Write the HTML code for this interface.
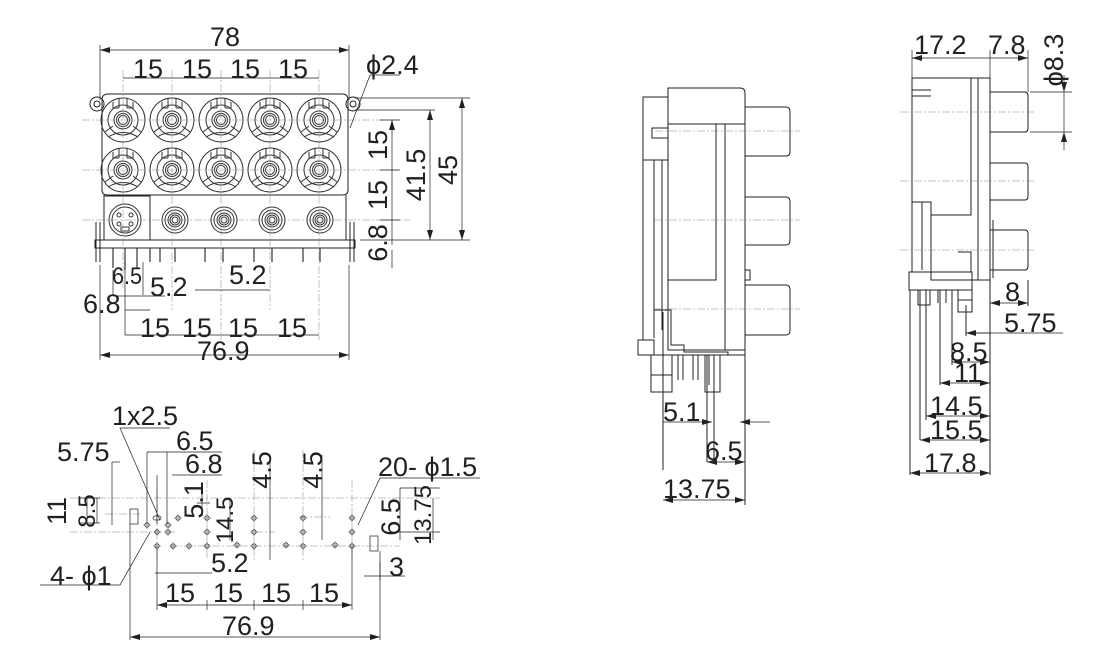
<!DOCTYPE html>
<html><head><meta charset="utf-8"><style>
html,body{margin:0;padding:0;background:#fff;}
svg{display:block;}
text{font-family:"Liberation Sans",sans-serif;fill:#231f20;}
.t text{font-size:27px;}
.t text.s{font-size:24px;}
</style></head><body>
<svg width="1120" height="658" viewBox="0 0 1120 658" xmlns="http://www.w3.org/2000/svg">
<defs>
<marker id="a" viewBox="0 0 10 6" refX="10" refY="3" markerWidth="10" markerHeight="6" orient="auto-start-reverse" markerUnits="userSpaceOnUse"><path d="M0,0L10,3L0,6z" fill="#231f20"/></marker>
<g id="jack" fill="none" stroke="#333" stroke-width="1">
<circle r="22"/><circle r="15"/><circle r="9"/><circle r="6.5"/><circle r="4.5"/>
<path d="M-4,-22V-12M4,-22V-12M-10,-18V-12H-4M10,-18V-12H4"/>
<path d="M-18,12L-10,6M18,12L10,6M-15,17Q0,8 15,17"/>
</g>
<g id="rca" fill="none" stroke="#333" stroke-width="1"><circle r="13"/><circle r="10"/><circle r="7"/><circle r="5"/><circle r="3"/></g>
<g id="h"><circle r="2.2" fill="none" stroke="#333" stroke-width="0.8"/><path d="M-4,0H4M0,-4V4" stroke="#666" stroke-width="0.5"/></g>
</defs>
<g stroke="#231f20" stroke-width="1" fill="none">
<path d="M108,94H342Q348,94 348,100V190Q348,195 342,195H108Q102,195 102,190V100Q102,94 108,94Z"/>
<circle cx="97" cy="104" r="7"/><circle cx="97" cy="104" r="3"/>
<circle cx="353" cy="104" r="7"/><circle cx="353" cy="104" r="3"/>
<path d="M104,195V240M346,195V240M95,240H355V248H95Z"/>
<path d="M104,196H150V240H104Z"/>
<path d="M96,222V262M100,222V262M350,222V262M354,222V262"/>
</g>
<use href="#jack" x="123" y="120"/><use href="#jack" x="172" y="120"/><use href="#jack" x="221" y="120"/><use href="#jack" x="270" y="120"/><use href="#jack" x="319" y="120"/>
<use href="#jack" x="123" y="170"/><use href="#jack" x="172" y="170"/><use href="#jack" x="221" y="170"/><use href="#jack" x="270" y="170"/><use href="#jack" x="319" y="170"/>
<use href="#rca" x="175" y="220"/><use href="#rca" x="224" y="220"/><use href="#rca" x="272" y="220"/><use href="#rca" x="320" y="220"/>
<g fill="none" stroke="#333" stroke-width="1"><circle cx="125" cy="220" r="16"/><circle cx="125" cy="220" r="13"/><circle cx="119" cy="215" r="2"/><circle cx="131" cy="215" r="2"/><circle cx="119" cy="224" r="2"/><circle cx="131" cy="224" r="2"/><rect x="121" y="227" width="8" height="4"/></g>
<g stroke="#333" stroke-width="1.2">
<path d="M113,248V268M125,248V270M137,248V268M150,248V262M160,248V262M175,248V262M205,248V262M223,248V262M254,248V262M272,248V262M303,248V262M320,248V262"/>
</g>
<g stroke="#888" stroke-width="0.5" stroke-dasharray="8,2,2,2" fill="none">
<path d="M82,120H400M82,170H400M82,220H410"/>
<path d="M123,70V290M172,70V310M221,70V340M270,70V310M319,70V340"/>
</g>
<g stroke="#231f20" stroke-width="0.7" fill="none">
<path d="M100,45V100M349,45V100"/>
<path d="M100,50H349" marker-start="url(#a)" marker-end="url(#a)"/>
<path d="M123,78H319"/>
<path d="M350,128L370,75H400"/>
<path d="M355,98H470M355,110H435M380,120H400M380,170H400M380,220H400M360,240H470"/>
<path d="M392,120V245" marker-start="url(#a)"/>
<path d="M392,250V268"/>
<path d="M430,110V240" marker-start="url(#a)" marker-end="url(#a)"/>
<path d="M462,98V240" marker-start="url(#a)" marker-end="url(#a)"/>
<path d="M113,270V295M125,262V335M143,262V295M100,265V360M349,265V360"/>
<path d="M113,296H143"/><path d="M125,310H150M143,296H165"/>
<path d="M195,290H270"/>
<path d="M125,335H319"/>
<path d="M100,355H349" marker-start="url(#a)" marker-end="url(#a)"/>
</g>
<g class="t">
<text x="210" y="46">78</text>
<text x="133" y="78">15</text><text x="182" y="78">15</text><text x="230" y="78">15</text><text x="278" y="78">15</text>
<text x="366" y="74">ϕ2.4</text>
<text x="387" y="145" transform="rotate(-90 387 145)" text-anchor="middle">15</text>
<text x="387" y="195" transform="rotate(-90 387 195)" text-anchor="middle">15</text>
<text x="387" y="243" transform="rotate(-90 387 243)" text-anchor="middle">6.8</text>
<text x="425" y="175" transform="rotate(-90 425 175)" text-anchor="middle">41.5</text>
<text x="457" y="170" transform="rotate(-90 457 170)" text-anchor="middle">45</text>
<text class="s" x="112" y="284" textLength="30" lengthAdjust="spacingAndGlyphs">6.5</text>
<text x="150" y="296">5.2</text><text x="229" y="284">5.2</text>
<text x="83" y="313">6.8</text>
<text x="140" y="337">15</text><text x="182" y="337">15</text><text x="228" y="337">15</text><text x="277" y="337">15</text>
<text x="197" y="360">76.9</text>
</g>
<!-- MIDDLE SIDE VIEW -->
<g stroke="#231f20" stroke-width="1" fill="none">
<path d="M668,88H740Q745,88 745,93V350H668Z"/>
<path d="M668,124H745M716,124V280H668M725,124V350"/>
<path d="M643,97H668V160H643ZM643,160V340M654,160V338M662,160V330"/>
<path d="M652,128H668V138H652Z"/>
<path d="M745,107H786Q790,107 790,112V152Q790,156 786,156H745"/>
<path d="M745,197H786Q790,197 790,202V240Q790,245 786,245H745"/>
<path d="M745,285H786Q790,285 790,290V330Q790,335 786,335H745"/>
<path d="M745,270H750V280H745"/>
<path d="M654,310H671V345H684V352H728V355H745V345"/>
<path d="M638,340H654V355H638ZM638,355H728"/>
<path d="M651,355V392H672V355M651,375H672"/>
<path d="M678,355V380M683,355V380M693,355V380M698,355V380M705,355V392H720V355M709,355V385M714,355V385"/>
<path d="M663,312V470M707,355V462M745,340V505M714,385V462"/>
</g>
<g stroke="#888" stroke-width="0.5" stroke-dasharray="8,2,2,2"><path d="M655,131H800M655,220H800M655,309H800"/></g>
<g stroke="#231f20" stroke-width="0.7" fill="none">
<path d="M663,422H700" /><path d="M740,422H770" marker-start="url(#a)"/><path d="M700,422H712" marker-end="url(#a)"/>
<path d="M707,462H745" marker-start="url(#a)" marker-end="url(#a)"/>
<path d="M663,500H745" marker-start="url(#a)" marker-end="url(#a)"/>
</g>
<g class="t"><text x="663" y="421">5.1</text><text x="705" y="460">6.5</text><text x="663" y="498">13.75</text></g>
<!-- RIGHT SIDE VIEW -->
<g stroke="#231f20" stroke-width="1" fill="none">
<path d="M931,78H990V280H931V202H912V78ZM912,90H931M912,96H931"/>
<path d="M971,78V215H931M978,78V280"/>
<path d="M990,92H1025Q1028,92 1028,96V128Q1028,132 1025,132H990"/>
<path d="M990,163H1025Q1028,163 1028,167V196Q1028,200 1025,200H990"/>
<path d="M993,220V278M990,230H1025Q1028,230 1028,234V266Q1028,270 1025,270H990"/>
<path d="M912,202V272M922,202V270"/>
<path d="M909,272H972V290H909ZM958,252H971V272"/>
<path d="M918,290V305H930V290M938,290V303M946,290V303M952,290V303M958,290V312H972V290M958,300H972"/>
<path d="M910,290V475M920,290V440M926,290V420M940,290V385M952,290V365M966,305V336M990,280V475M1028,280V306"/>
</g>
<g stroke="#888" stroke-width="0.5" stroke-dasharray="8,2,2,2"><path d="M900,112H1036M900,181H1036M900,250H1036"/></g>
<g stroke="#231f20" stroke-width="0.7" fill="none">
<path d="M912,50V78M990,50V78M1028,50V92"/>
<path d="M912,58H1028" marker-start="url(#a)" marker-end="url(#a)"/>
<path d="M1030,92H1072M1030,132H1072"/>
<path d="M1064,75V92" marker-end="url(#a)"/><path d="M1064,150V132" marker-end="url(#a)"/><path d="M1064,92V132"/>
<path d="M990,303H1028" marker-start="url(#a)" marker-end="url(#a)"/>
<path d="M966,333H1063" /><path d="M966,333H990" marker-start="url(#a)"/>
<path d="M952,362H990" marker-start="url(#a)" marker-end="url(#a)"/>
<path d="M940,383H990" marker-start="url(#a)" marker-end="url(#a)"/>
<path d="M926,416H990" marker-start="url(#a)" marker-end="url(#a)"/>
<path d="M920,440H990" marker-start="url(#a)" marker-end="url(#a)"/>
<path d="M910,473H990" marker-start="url(#a)" marker-end="url(#a)"/>
</g>
<g class="t">
<text x="914" y="54">17.2</text><text x="988" y="54">7.8</text>
<text x="1063" y="60" transform="rotate(-90 1063 60)" text-anchor="middle">ϕ8.3</text>
<text x="1005" y="301">8</text><text x="1004" y="332">5.75</text>
<text x="950" y="361">8.5</text><text x="954" y="382">11</text>
<text x="930" y="415">14.5</text><text x="930" y="439">15.5</text><text x="924" y="472">17.8</text>
</g>
<!-- BOTTOM PCB LAYOUT -->
<g stroke="#888" stroke-width="0.5" stroke-dasharray="8,2,2,2" fill="none">
<path d="M70,498H440M105,514H140M70,532H175M170,546H400M300,517H330M255,532H275"/>
<path d="M157,490V560M207,480V560M254,450V560M303,450V560M352,480V560"/>
</g>
<g stroke="#231f20" stroke-width="0.7" fill="none">
<rect x="130" y="509" width="8" height="15"/><rect x="370" y="536" width="8" height="15"/>
<rect x="153" y="516" width="8" height="4" rx="2"/>
<path d="M130,524V640M380,551V640"/>
<path d="M130,637H380" marker-start="url(#a)" marker-end="url(#a)"/>
<path d="M157,605H352" marker-start="url(#a)" marker-end="url(#a)"/>
<path d="M207,600V610M254,600V610M303,600V610"/>
<path d="M157,546V610M352,546V610"/>
<path d="M155,573H212"/>
<path d="M364,576H380M380,562V580M380,576H405"/>
<path d="M147,452V524M167,452V524"/><path d="M147,452H222"/>
<path d="M157,475V524M172,475H222"/>
<path d="M112,462H120"/><path d="M112,462V525"/>
<path d="M80,498H100M80,523H100M87,498V523"/>
<path d="M97,498V523"/>
<path d="M160,520L120,428H170"/>
<path d="M150,532L120,585H40"/>
<path d="M202,488V516M197,503H210"/>
<path d="M230,500V540"/>
<path d="M270,455V560M322,455V540"/>
<path d="M358,525L380,478H480"/>
<path d="M400,488V540M400,488H440M395,532H440M433,498V540"/>
</g>
<g>
<use href="#h" x="157" y="532"/><use href="#h" x="157" y="546"/><use href="#h" x="147" y="525"/><use href="#h" x="168" y="525"/><use href="#h" x="168" y="532"/>
<use href="#h" x="178" y="518"/><use href="#h" x="173" y="546"/><use href="#h" x="189" y="546"/>
<use href="#h" x="207" y="518"/><use href="#h" x="207" y="532"/><use href="#h" x="207" y="546"/><use href="#h" x="237" y="545"/>
<use href="#h" x="254" y="518"/><use href="#h" x="254" y="532"/><use href="#h" x="254" y="546"/><use href="#h" x="286" y="545"/>
<use href="#h" x="303" y="518"/><use href="#h" x="303" y="532"/><use href="#h" x="303" y="546"/><use href="#h" x="335" y="545"/>
<use href="#h" x="352" y="518"/><use href="#h" x="352" y="532"/><use href="#h" x="352" y="546"/>
</g>
<g class="t">
<text x="112" y="425">1x2.5</text>
<text x="176" y="450">6.5</text><text x="185" y="473">6.8</text>
<text x="57" y="461">5.75</text>
<text x="378" y="476">20- ϕ1.5</text>
<text x="66" y="511" transform="rotate(-90 66 511)" text-anchor="middle">11</text>
<text class="s" x="95" y="511" transform="rotate(-90 95 511)" text-anchor="middle">8.5</text>
<text x="203" y="500" transform="rotate(-90 203 500)" text-anchor="middle">5.1</text>
<text class="s" x="233" y="520" transform="rotate(-90 233 520)" text-anchor="middle">14.5</text>
<text x="271" y="470" transform="rotate(-90 271 470)" text-anchor="middle">4.5</text>
<text x="322" y="470" transform="rotate(-90 322 470)" text-anchor="middle">4.5</text>
<text x="400" y="517" transform="rotate(-90 400 517)" text-anchor="middle">6.5</text>
<text class="s" x="431" y="515" transform="rotate(-90 431 515)" text-anchor="middle">13.75</text>
<text x="211" y="572">5.2</text>
<text x="50" y="585">4- ϕ1</text>
<text x="389" y="576">3</text>
<text x="165" y="602">15</text><text x="213" y="602">15</text><text x="261" y="602">15</text><text x="309" y="602">15</text>
<text x="222" y="635">76.9</text>
</g>
</svg>
</body></html>
